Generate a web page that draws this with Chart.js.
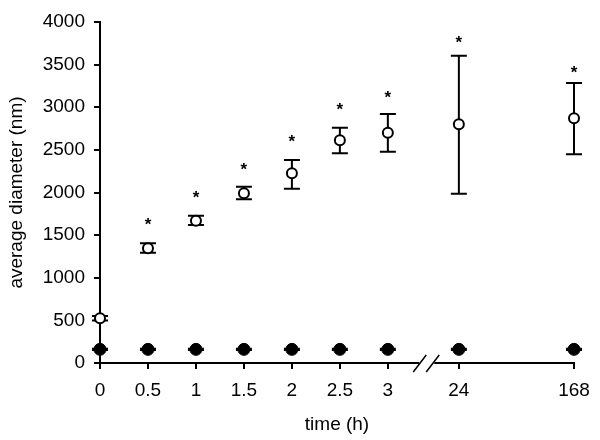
<!DOCTYPE html>
<html>
<head>
<meta charset="utf-8">
<script src="https://cdn.jsdelivr.net/npm/chart.js@4/dist/chart.umd.min.js"></script>
<style>
  html, body { margin: 0; padding: 0; background: #fff; }
  #wrap { width: 600px; height: 440px; }
</style>
</head>
<body>
<div id="wrap"><canvas id="c" width="600" height="440"></canvas></div>
<script>
// Category labels (time, h) and their positions along the broken axis
const categories = ['0', '0.5', '1', '1.5', '2', '2.5', '3', '24', '168'];
const axisPos = [0, 0.5, 1, 1.5, 2, 2.5, 3, 3.74, 4.94];
const breakPos = 3.4;

// Open circles: mean, lower and upper error bar ends
const openMean = [524, 1347, 1668, 1990, 2225, 2612, 2700, 2800, 2870];
const openLow  = [500, 1294, 1619, 1920, 2045, 2460, 2479, 1986, 2448];
const openHigh = [550, 1404, 1728, 2068, 2381, 2760, 2921, 3605, 3284];

// Filled circles
const filledMean = [160, 160, 160, 160, 160, 160, 160, 160, 160];
const filledLow  = [152, 152, 152, 152, 152, 152, 152, 152, 152];
const filledHigh = [168, 168, 168, 168, 168, 168, 168, 168, 168];

// Significance markers (asterisk heights)
const starY = [null, 1657, 1971, 2303, 2635, 3007, 3152, 3800, 3445];

// Y axis ticks
const yMin = 0, yMax = 4000, yStep = 500;

const FONT = "'Liberation Sans', Arial, sans-serif";
const FS = 19;

const errorBarPlugin = {
  id: 'errorBars',
  beforeDatasetsDraw(chart) {
    const {ctx, scales: {x, y}} = chart;
    ctx.save();
    ctx.strokeStyle = '#000';
    ctx.lineWidth = 2;
    chart.data.datasets.forEach(ds => {
      if (!ds.errLow) return;
      ds.data.forEach((p, i) => {
        const px = x.getPixelForValue(p.x);
        const lo = y.getPixelForValue(ds.errLow[i]);
        const hi = y.getPixelForValue(ds.errHigh[i]);
        const cw = 8;
        ctx.beginPath();
        ctx.moveTo(px, lo); ctx.lineTo(px, hi);
        ctx.moveTo(px - cw, lo); ctx.lineTo(px + cw, lo);
        ctx.moveTo(px - cw, hi); ctx.lineTo(px + cw, hi);
        ctx.stroke();
      });
    });
    ctx.restore();
  }
};

const decoPlugin = {
  id: 'deco',
  afterDraw(chart) {
    const {ctx, scales: {x, y}} = chart;
    ctx.save();
    // asterisks
    ctx.fillStyle = '#000';
    ctx.font = 'bold 17px ' + FONT;
    ctx.textAlign = 'center';
    ctx.textBaseline = 'alphabetic';
    const m = ctx.measureText('*');
    const asc = m.actualBoundingBoxAscent, desc = m.actualBoundingBoxDescent;
    starY.forEach((v, i) => {
      if (v == null) return;
      const px = x.getPixelForValue(axisPos[i]);
      const py = y.getPixelForValue(v);
      ctx.fillText('*', px, py + (asc - desc) / 2);
    });
    // axis break
    const bx = x.getPixelForValue(breakPos);
    const by = y.getPixelForValue(0);
    ctx.fillStyle = '#fff';
    ctx.fillRect(bx - 7, by - 3, 15, 6);
    ctx.strokeStyle = '#000';
    ctx.lineWidth = 1.5;
    ctx.beginPath();
    ctx.moveTo(bx - 13, by + 9); ctx.lineTo(bx, by - 8);
    ctx.moveTo(bx, by + 9); ctx.lineTo(bx + 13, by - 8);
    ctx.stroke();
    ctx.restore();
  }
};

new Chart(document.getElementById('c'), {
  type: 'scatter',
  data: {
    datasets: [
      {
        label: 'filled',
        data: filledMean.map((v, i) => ({x: axisPos[i], y: v})),
        errLow: filledLow, errHigh: filledHigh,
        pointRadius: 6, pointHoverRadius: 6,
        pointBackgroundColor: '#000', pointBorderColor: '#000', pointBorderWidth: 1,
        showLine: false, clip: false
      },
      {
        label: 'open',
        data: openMean.map((v, i) => ({x: axisPos[i], y: v})),
        errLow: openLow, errHigh: openHigh,
        pointRadius: 5, pointHoverRadius: 5,
        pointBackgroundColor: '#fff', pointBorderColor: '#000', pointBorderWidth: 2,
        showLine: false, clip: false
      }
    ]
  },
  options: {
    responsive: false,
    animation: false,
    events: [],
    layout: { padding: { left: 0, top: 22, right: 26, bottom: 0 } },
    plugins: { legend: { display: false }, tooltip: { enabled: false } },
    scales: {
      x: {
        type: 'linear',
        min: axisPos[0],
        max: axisPos[axisPos.length - 1],
        afterBuildTicks: s => { s.ticks = axisPos.map(v => ({value: v})); },
        afterFit: s => { s.height = 77; },
        ticks: {
          autoSkip: false, maxRotation: 0,
          callback: (v, i) => categories[i],
          color: '#000', padding: 10,
          font: { family: FONT, size: FS }
        },
        grid: { drawOnChartArea: false, drawTicks: true, tickLength: 6, color: '#000', lineWidth: 2 },
        border: { display: true, color: '#000', width: 2 },
        title: { display: true, text: 'time (h)', color: '#000', font: { family: FONT, size: FS }, padding: { top: 0, bottom: 4 } }
      },
      y: {
        min: yMin, max: yMax,
        afterFit: s => { s.width = 100; },
        ticks: { stepSize: yStep, color: '#000', padding: 9, font: { family: FONT, size: FS },
                 callback: v => String(v) },
        grid: { drawOnChartArea: false, drawTicks: true, tickLength: 6, color: '#000', lineWidth: 2 },
        border: { display: true, color: '#000', width: 2 },
        title: { display: true, text: 'average diameter (nm)', color: '#000', font: { family: FONT, size: FS }, padding: { top: 5, bottom: 0 } }
      }
    }
  },
  plugins: [errorBarPlugin, decoPlugin]
});
</script>
</body>
</html>
